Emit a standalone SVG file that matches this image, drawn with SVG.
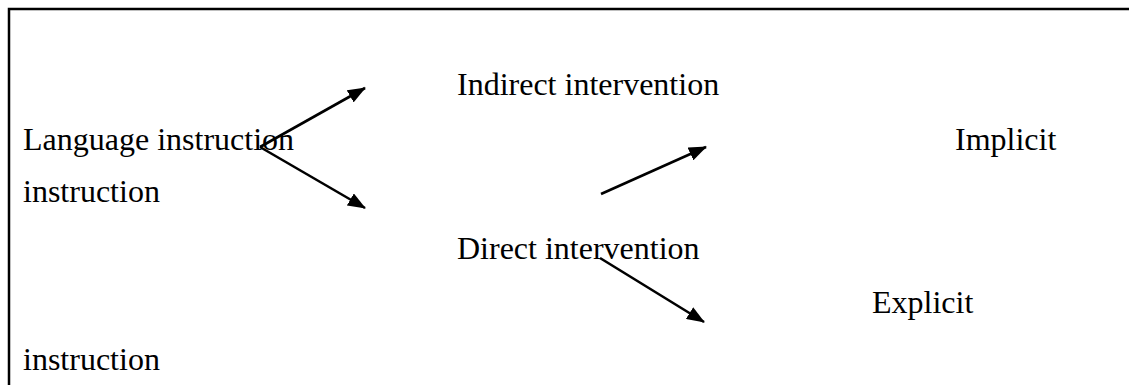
<svg xmlns="http://www.w3.org/2000/svg" width="1129" height="385" viewBox="0 0 1129 385">
<style>
text { font-family: "Liberation Serif", "Times New Roman", serif; font-size: 32px; fill: #000; }
.conn { stroke: #000; stroke-width: 2.6; fill: none; marker-end: url(#ah); }
.border { stroke: #000; stroke-width: 2.5; fill: none; }
</style>
<defs>
<marker id="ah" markerWidth="18" markerHeight="14" refX="17" refY="7" orient="auto" markerUnits="userSpaceOnUse">
<path d="M0,0 L18,7 L0,14 Z" fill="#000"/>
</marker>
</defs>
<rect width="1129" height="385" fill="#fff"/>
<path class="border" d="M9,385 L9,9 L1129,9"/>
<g id="n-language"><text x="23" y="150">Language instruction</text></g>
<g id="n-instruction1"><text x="23" y="202">instruction</text></g>
<g id="n-indirect"><text x="457" y="95">Indirect intervention</text></g>
<g id="n-direct"><text x="457" y="259">Direct intervention</text></g>
<g id="n-implicit"><text x="955" y="150">Implicit</text></g>
<g id="n-explicit"><text x="872" y="313">Explicit</text></g>
<g id="n-instruction2"><text x="23" y="370">instruction</text></g>
<g id="connectors">
<line class="conn" x1="260" y1="147" x2="365" y2="88"/>
<line class="conn" x1="260" y1="147" x2="365" y2="208"/>
<line class="conn" x1="601" y1="194" x2="706" y2="147"/>
<line class="conn" x1="600" y1="258" x2="704" y2="322"/>
</g>
</svg>
